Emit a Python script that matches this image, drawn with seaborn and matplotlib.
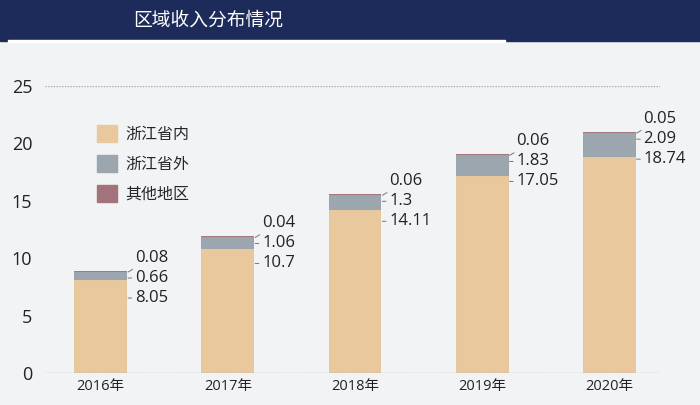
import numpy as np
import pandas as pd
import matplotlib.pyplot as plt
import seaborn as sns
from matplotlib.patches import Rectangle

years = ["2016年", "2017年", "2018年", "2019年", "2020年"]
inside = [8.05, 10.7, 14.11, 17.05, 18.74]      # 浙江省内
outside = [0.66, 1.06, 1.3, 1.83, 2.09]         # 浙江省外
other = [0.08, 0.04, 0.06, 0.06, 0.05]          # 其他地区
series_names = ["浙江省内", "浙江省外", "其他地区"]
yticks = [0, 5, 10, 15, 20, 25]

c_in, c_out, c_oth = "#E8C89C", "#9BA6AF", "#A2737A"
bg = "#F1F3F5"

sns.set_theme(style="white")
plt.rcParams["font.family"] = ["Open Sans", "Noto Sans CJK SC", "DejaVu Sans"]

df = pd.DataFrame({"year": years, "inside": inside, "outside": outside, "other": other})
df["mid"] = df["inside"] + df["outside"]
df["total"] = df["mid"] + df["other"]

fig = plt.figure(figsize=(7, 4.05), dpi=100, facecolor=bg)
ax = fig.add_axes([0.064, 0.079, 0.879, 0.709])
ax.set_facecolor(bg)

# header band
fig.patches.append(Rectangle((0, 0.90), 1, 0.10, transform=fig.transFigure,
                             color="#1D2B5B", zorder=0))
fig.patches.append(Rectangle((0.012, 0.896), 0.71, 0.006, transform=fig.transFigure,
                             color="#FFFFFF", zorder=1))
fig.text(0.297, 0.951, "区域收入分布情况", color="white", fontsize=13.5,
         ha="center", va="center", family=["Noto Sans CJK SC"])

w = 0.40
# each layer gets an edge in its own colour so the thin top segment stays visible
for col, c in (("total", c_oth), ("mid", c_out), ("inside", c_in)):
    sns.barplot(data=df, x="year", y=col, color=c, width=w, saturation=1, ax=ax,
                edgecolor=c, linewidth=1.4)

# value labels with small leader lines
lk = dict(fontsize=12, color="#222", va="center", ha="left")
ap = dict(arrowstyle="-", color="#777", lw=0.7, shrinkA=0, shrinkB=0)
for i, r in df.iterrows():
    xe = i + w / 2 + 0.015
    xt = i + w / 2 + 0.07
    ax.annotate(f"{r['other']:g}", xy=(xe, r["total"]), xytext=(xt, r["total"] + 1.22),
                arrowprops=ap, **lk)
    my = r["total"] - 0.52
    ax.annotate(f"{r['outside']:g}", xy=(xe, my), xytext=(xt, my), arrowprops=ap, **lk)
    by = r["total"] - 2.26
    ax.annotate(f"{r['inside']:g}", xy=(xe, by), xytext=(xt, by), arrowprops=ap, **lk)

ax.set_xlim(-0.44, 4.40)
ax.set_ylim(0, 25)
ax.set_yticks(yticks)
ax.set_yticklabels([str(v) for v in yticks], fontsize=13, color="#222")
ax.tick_params(axis="x", labelsize=10.5, colors="#222", length=0, pad=4)
ax.tick_params(axis="y", length=0, pad=9)
ax.set_xlabel("")
ax.set_ylabel("")
for s in ax.spines.values():
    s.set_visible(False)
ax.axhline(0, color="#999", lw=1, ls=(0, (1, 1)), zorder=5)
ax.axhline(25, color="#AAA", lw=1, ls=(0, (1, 1)), zorder=0)

handles = [Rectangle((0, 0), 1, 1, color=c) for c in (c_in, c_out, c_oth)]
ax.legend(handles, series_names, loc="upper left", bbox_to_anchor=(0.075, 0.885),
          frameon=False, fontsize=11.5, handlelength=1.25, handleheight=1.25,
          labelspacing=0.75, handletextpad=0.5, borderaxespad=0)

fig.savefig("out.png", dpi=100, facecolor=bg)
